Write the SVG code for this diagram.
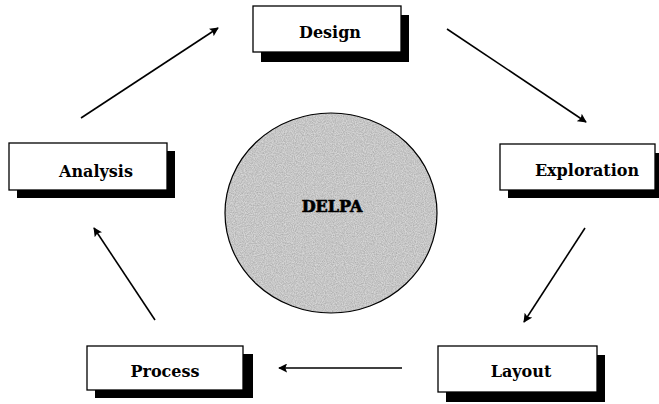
<svg xmlns="http://www.w3.org/2000/svg" width="659" height="404" viewBox="0 0 659 404">
  <defs>
    <style>
      .box { fill: #ffffff; stroke: #000000; stroke-width: 1.3; }
      .shadow { fill: #000000; }
      .lbl { font-family: "DejaVu Serif", "Liberation Serif", serif; font-weight: bold; font-size: 16px; fill: #000000; text-anchor: middle; }
      .conn { stroke: #000000; stroke-width: 1.6; fill: none; marker-end: url(#ah); }
    </style>
    <marker id="ah" viewBox="0 0 10 10" refX="9" refY="5" markerWidth="9" markerHeight="9" markerUnits="userSpaceOnUse" orient="auto">
      <path d="M0,0 L10,5 L0,10 L2,5 Z" fill="#000000"/>
    </marker>
    <filter id="grain" x="0" y="0" width="100%" height="100%">
      <feTurbulence type="fractalNoise" baseFrequency="0.9" numOctaves="2" seed="3" result="n"/>
      <feColorMatrix type="matrix" values="0 0 0 0 0  0 0 0 0 0  0 0 0 0 0  0 0 0 -1.2 0.9" in="n" result="a"/>
      <feComposite operator="in" in="a" in2="SourceGraphic"/>
    </filter>
  </defs>

  <rect x="0" y="0" width="659" height="404" fill="#ffffff"/>

  <g id="connectors">
    <line class="conn" x1="81" y1="118" x2="218" y2="28"/>
    <line class="conn" x1="447" y1="29" x2="586" y2="122"/>
    <line class="conn" x1="585" y1="228" x2="524" y2="322"/>
    <line class="conn" x1="402" y1="368" x2="279" y2="368"/>
    <line class="conn" x1="155" y1="320" x2="94" y2="228"/>
  </g>

  <g id="delpa">
    <ellipse cx="331" cy="213" rx="106" ry="100" fill="#d6d6d6"/>
    <ellipse cx="331" cy="213" rx="106" ry="100" fill="#a0a0a0" filter="url(#grain)" opacity="0.25"/>
    <ellipse cx="331" cy="213" rx="106" ry="100" fill="none" stroke="#000000" stroke-width="1.2"/>
    <text class="lbl" x="332" y="212" font-size="17" stroke="#000000" stroke-width="0.7">DELPA</text>
  </g>

  <g id="design">
    <rect class="shadow" x="261" y="15" width="148" height="47"/>
    <rect class="box" x="253" y="6" width="148" height="46"/>
    <text class="lbl" x="330" y="38">Design</text>
  </g>

  <g id="exploration">
    <rect class="shadow" x="508" y="153" width="155" height="45"/>
    <rect class="box" x="500" y="144" width="155" height="46"/>
    <text class="lbl" x="587" y="176">Exploration</text>
  </g>

  <g id="layout">
    <rect class="shadow" x="446" y="355" width="159" height="47"/>
    <rect class="box" x="438" y="346" width="159" height="46"/>
    <text class="lbl" x="521" y="377">Layout</text>
  </g>

  <g id="process">
    <rect class="shadow" x="95" y="354" width="158" height="44"/>
    <rect class="box" x="87" y="346" width="156" height="44"/>
    <text class="lbl" x="165" y="377">Process</text>
  </g>

  <g id="analysis">
    <rect class="shadow" x="17" y="151" width="158" height="47"/>
    <rect class="box" x="9" y="143" width="158" height="47"/>
    <text class="lbl" x="96" y="177">Analysis</text>
  </g>
</svg>
